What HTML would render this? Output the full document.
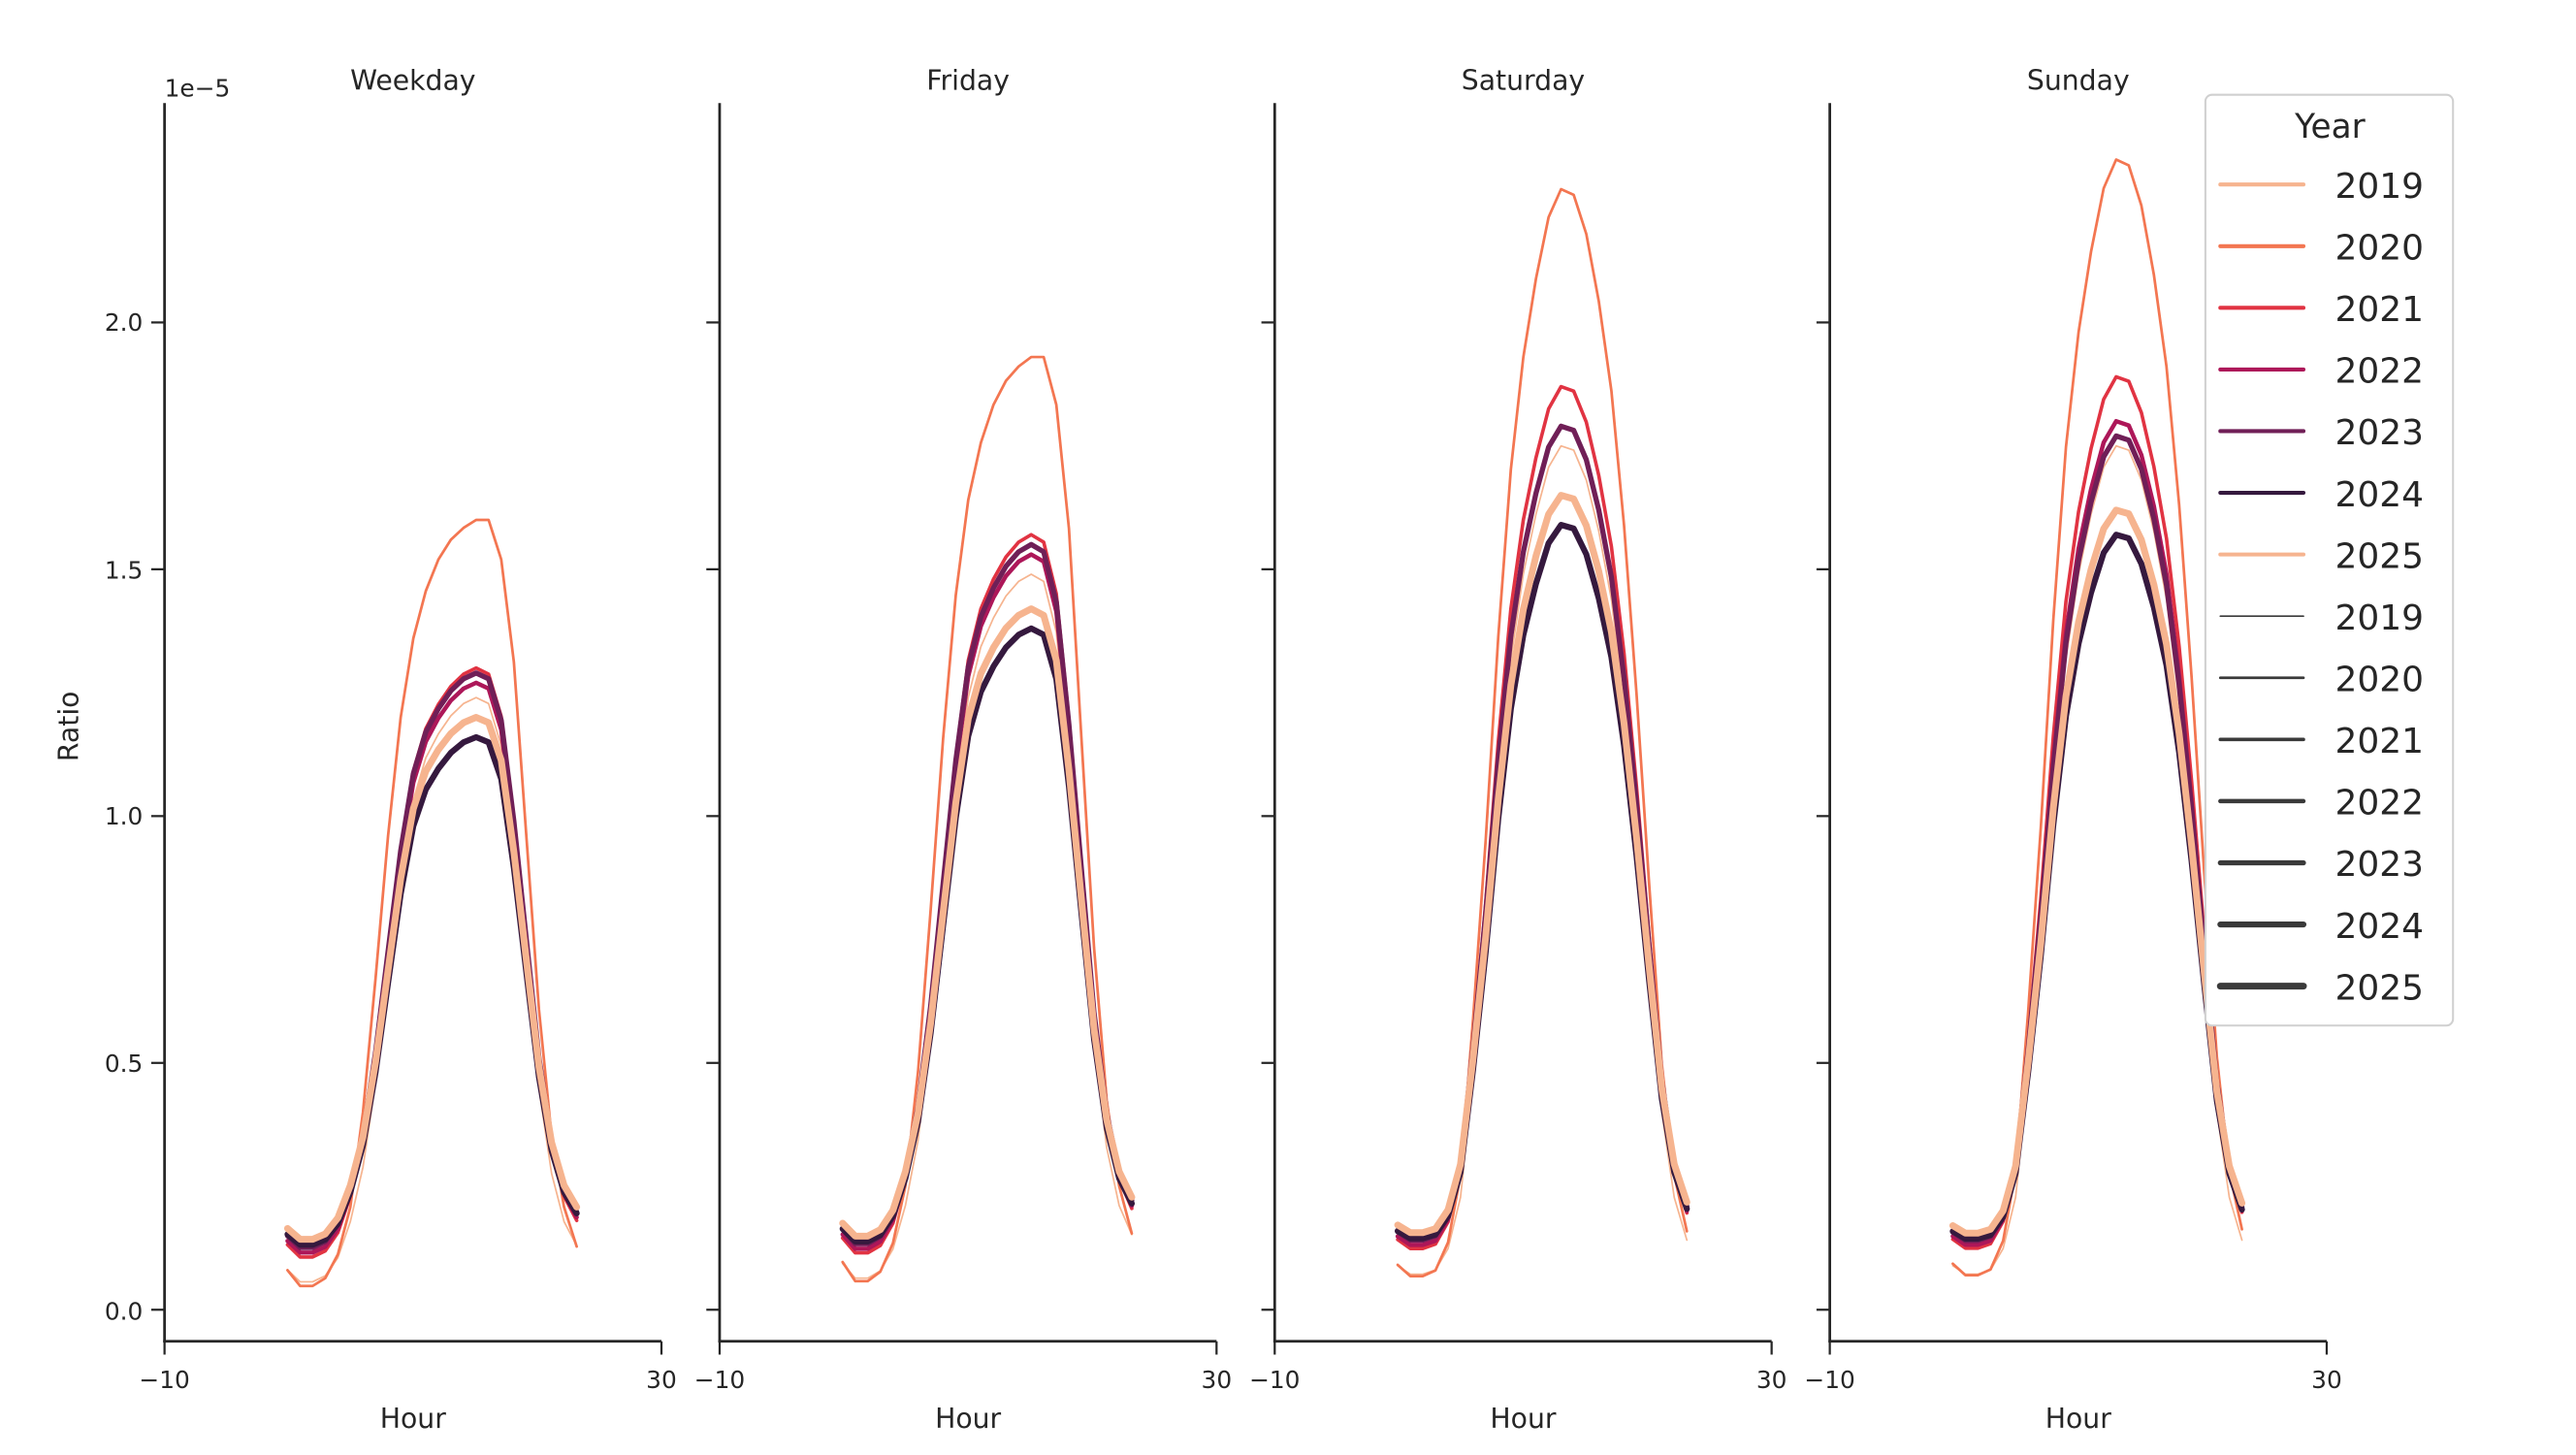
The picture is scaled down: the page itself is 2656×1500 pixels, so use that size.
<!DOCTYPE html>
<html><head><meta charset="utf-8"><style>
html,body{margin:0;padding:0;background:#fff;}
svg{display:block;}
text{font-family:"DejaVu Sans","Liberation Sans",sans-serif;fill:#262626;}
</style></head><body>
<svg id="s" width="2656" height="1500" viewBox="0 0 1550 875.4" preserveAspectRatio="none" xmlns="http://www.w3.org/2000/svg">
<rect width="1550" height="876" fill="#fff"/>
<g id="plots"></g>
<g id="axes"></g>
<text x="47" y="437" font-size="16.5" text-anchor="middle" transform="rotate(-90 47 437)">Ratio</text>
<text x="99" y="58" font-size="14.5">1e−5</text>
<g font-size="14.5" text-anchor="end">
<text x="86" y="199">2.0</text>
<text x="86" y="348">1.5</text>
<text x="86" y="496">1.0</text>
<text x="86" y="645">0.5</text>
<text x="86" y="794">0.0</text>
</g>
<g id="legend">
<rect x="1327" y="57" width="149" height="560" rx="4" fill="#fff" stroke="#d0d0d0" stroke-width="1.2"/>
<text x="1402" y="83" font-size="20" text-anchor="middle">Year</text>
</g>
</svg>
<script>
var NS="http://www.w3.org/2000/svg";
function el(tag,attrs,parent,txt){var e=document.createElementNS(NS,tag);for(var k in attrs)e.setAttribute(k,attrs[k]);if(txt!==undefined)e.textContent=txt;parent.appendChild(e);return e;}
var plots=document.getElementById('plots'),axes=document.getElementById('axes'),leg=document.getElementById('legend');
var cols=["#f6b48f","#f37651","#e13342","#ad1759","#701f57","#35193e","#f6b48f"];
var widths=[1,1.6,2.1,2.6,3.1,3.6,4.1];
var nights=[0.02,0,0.07,0.08,0.09,0.1,0.11];
var wd2020=[.05,.03,.03,.04,.07,.13,.25,.42,.6,.75,.85,.91,.95,.975,.99,1,1,.95,.82,.6,.38,.22,.13,.08];
var wdOther=[.05,.03,.03,.04,.07,.13,.22,.36,.53,.7,.83,.9,.94,.97,.99,1,.99,.92,.75,.55,.35,.21,.13,.09];
var we=[.04,.03,.03,.035,.06,.12,.26,.42,.6,.75,.85,.92,.975,1,.995,.96,.9,.82,.7,.55,.38,.22,.12,.07];
var panels=[
 {name:"Weekday",x0:99,peaks:[1.24,1.6,1.3,1.27,1.29,1.16,1.2],w:false},
 {name:"Friday",x0:433,peaks:[1.49,1.93,1.57,1.53,1.55,1.38,1.42],w:false},
 {name:"Saturday",x0:767,peaks:[1.75,2.27,1.87,1.79,1.79,1.59,1.65],w:true},
 {name:"Sunday",x0:1101,peaks:[1.75,2.33,1.89,1.8,1.77,1.57,1.62],w:true}];
var Y0=788,SC=297;
panels.forEach(function(p,pi){
  for(var y=0;y<7;y++){
    var shp=p.w?we:(y==1?wd2020:wdOther);
    var n=nights[y],P=p.peaks[y],pts=[];
    for(var i=0;i<24;i++){
      var v=n+(P-n)*shp[i];
      pts.push((p.x0+74+i*7.565).toFixed(1)+","+(Y0-v*SC).toFixed(1));
    }
    el('polyline',{points:pts.join(" "),fill:"none",stroke:cols[y],"stroke-width":widths[y],"stroke-linejoin":"round","stroke-linecap":"round"},plots);
  }
  var x=p.x0;
  el('line',{x1:x,y1:62,x2:x,y2:807.7,stroke:"#262626","stroke-width":1.6},axes);
  el('line',{x1:x-0.8,y1:807,x2:x+299,y2:807,stroke:"#262626","stroke-width":1.6},axes);
  [0,0.5,1,1.5,2].forEach(function(t){var yy=Y0-t*SC;el('line',{x1:x-8,y1:yy,x2:x,y2:yy,stroke:"#262626","stroke-width":1.3},axes);});
  el('line',{x1:x,y1:807,x2:x,y2:815,stroke:"#262626","stroke-width":1.3},axes);
  el('line',{x1:x+299,y1:807,x2:x+299,y2:815,stroke:"#262626","stroke-width":1.3},axes);
  el('text',{x:x,y:835,"font-size":14.5,"text-anchor":"middle"},axes,"−10");
  el('text',{x:x+299,y:835,"font-size":14.5,"text-anchor":"middle"},axes,"30");
  el('text',{x:x+149.5,y:859,"font-size":16.5,"text-anchor":"middle"},axes,"Hour");
  el('text',{x:x+149.5,y:54,"font-size":16.5,"text-anchor":"middle"},axes,p.name);
});
for(var k=0;k<14;k++){
  var yy=111+k*37.1;
  var c=k<7?cols[k]:"#3a3a3a", w=k<7?2.4:widths[k-7];
  el('line',{x1:1336,y1:yy,x2:1386,y2:yy,stroke:c,"stroke-width":w,"stroke-linecap":"round"},leg);
  el('text',{x:1405,y:yy+8,"font-size":21},leg,String(2019+(k%7)));
}
</script>
</body></html>
